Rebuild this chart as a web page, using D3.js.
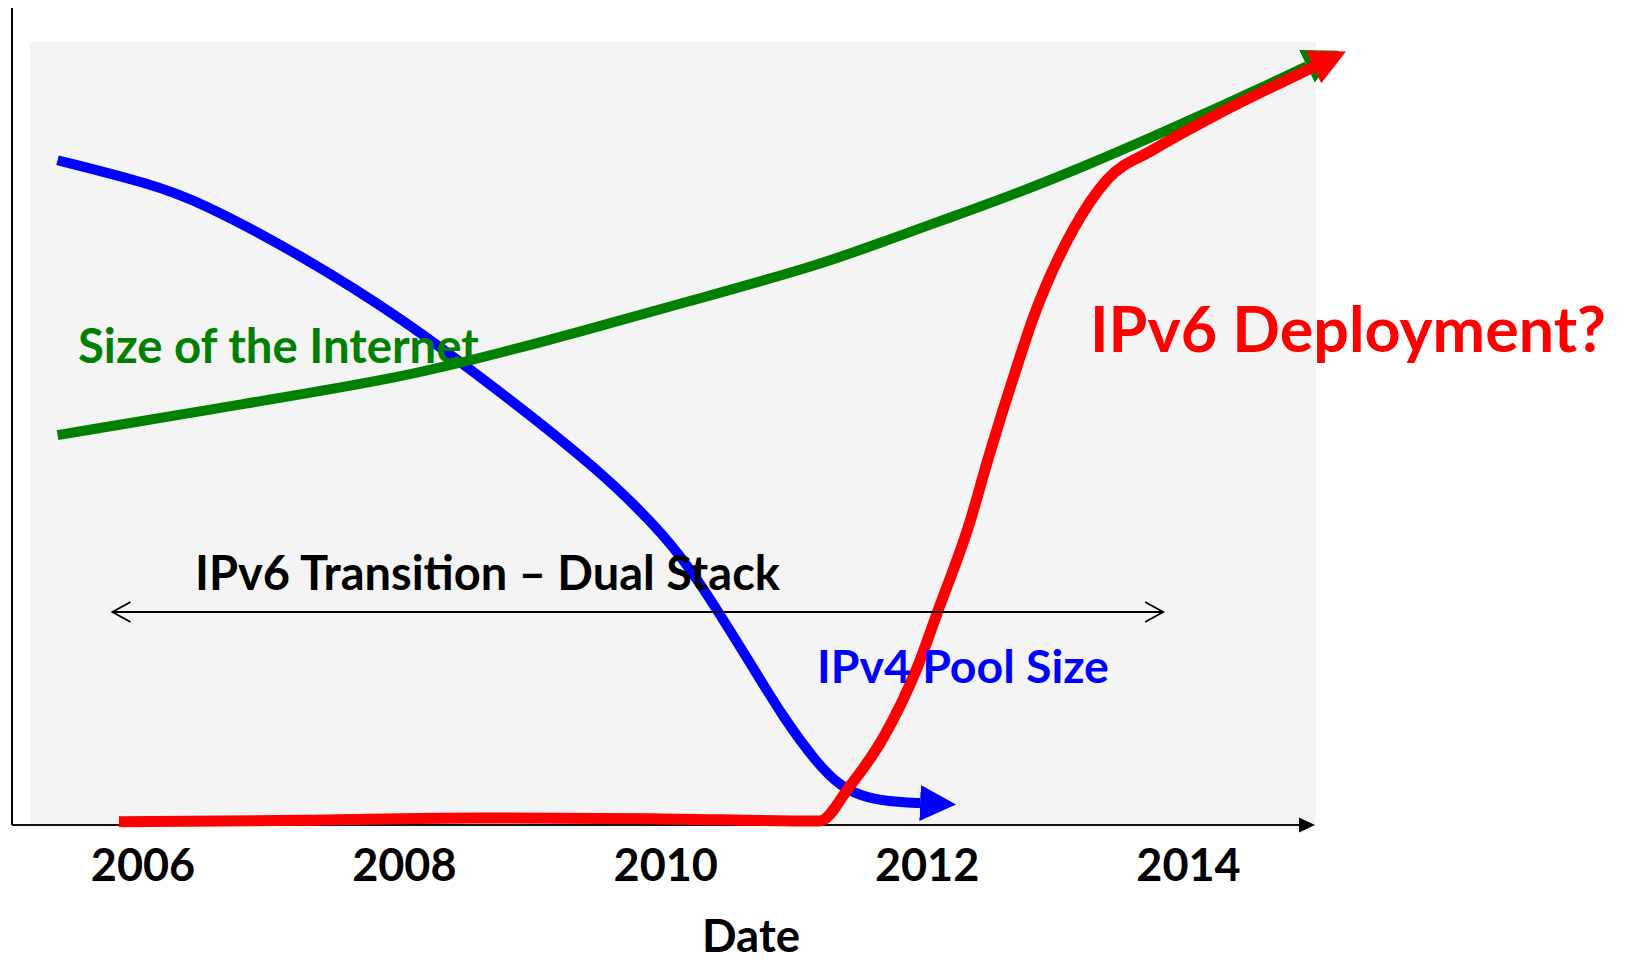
<!DOCTYPE html>
<html>
<head>
<meta charset="utf-8">
<script src="https://cdn.jsdelivr.net/npm/d3@7"></script>
<style>
  body { margin: 0; background: #fff; }
  text { font-family: Lato, "Open Sans", sans-serif; font-weight: 700; }
</style>
</head>
<body>
<div id="chart"></div>
<script>
const width = 1625,
   height = 962;

// data (year, relative size 0-100)
const tickYears = [2006, 2008, 2010, 2012, 2014];

const internetYears = [2005.35, 2006.82, 2007.97, 2008.74, 2009.35, 2010.14, 2011.18, 2011.7, 2012.2, 2012.71, 2013.23, 2013.73, 2014.24, 2014.76, 2014.91];
const internetSize = [49.8, 53.9, 57.1, 60.3, 63.0, 66.7, 71.5, 74.7, 77.7, 80.8, 84.3, 87.9, 91.7, 95.7, 96.9];

const poolYears = [2005.35, 2006.06, 2006.44, 2007.2, 2007.97, 2008.74, 2009.5, 2010.01, 2010.27, 2010.65, 2010.9, 2011.16, 2011.34, 2011.54, 2011.8, 2011.95];
const poolSize = [84.9, 81.9, 79.6, 72.9, 64.9, 55.3, 45.3, 36.8, 30.9, 20.7, 13.8, 7.9, 4.9, 3.4, 2.9, 2.8];

const v6Years = [2005.82, 2007.2, 2008.57, 2009.88, 2011.18, 2011.41, 2011.67, 2011.93, 2012.09, 2012.32, 2012.48, 2012.69, 2012.81, 2013.12, 2013.38, 2013.73, 2014.24, 2014.76, 2014.96];
const v6Deployment = [0.4, 0.6, 0.9, 0.8, 0.5, 4.9, 11.2, 20.2, 27.5, 38.1, 47.3, 58.5, 64.5, 76.0, 82.4, 86.2, 90.9, 95.2, 96.8];

const transitionSpan = [2005.77, 2013.81];
const transitionLevel = 27.2;

const svg = d3.select('#chart')
   .append('svg')
   .attr('width', width)
   .attr('height', height);

const x = d3.scaleLinear()
   .domain([2006, 2014])
   .range([142.5, 1188]);

const y = d3.scaleLinear()
   .domain([0, 100])
   .range([825, 42]);

const defs = svg.append('defs');

function arrowHead(id, color) {
   defs.append('marker')
      .attr('id', id)
      .attr('viewBox', '0 -18 36 36')
      .attr('refX', 0)
      .attr('refY', 0)
      .attr('markerUnits', 'userSpaceOnUse')
      .attr('markerWidth', 36)
      .attr('markerHeight', 36)
      .attr('orient', 'auto')
      .append('path')
      .attr('d', 'M0,-18L36,0L0,18Z')
      .attr('fill', color);
}
arrowHead('head-green', '#008000');
arrowHead('head-blue', '#0000ff');
arrowHead('head-red', '#ff0000');

defs.append('marker')
   .attr('id', 'axis-head')
   .attr('viewBox', '0 -8 16 16')
   .attr('refX', 0)
   .attr('refY', 0)
   .attr('markerUnits', 'userSpaceOnUse')
   .attr('markerWidth', 16)
   .attr('markerHeight', 16)
   .attr('orient', 'auto')
   .append('path')
   .attr('d', 'M0,-7.5L16,0L0,7.5Z')
   .attr('fill', '#000');

defs.append('marker')
   .attr('id', 'open-head')
   .attr('viewBox', '-20 -12 22 24')
   .attr('refX', 0)
   .attr('refY', 0)
   .attr('markerUnits', 'userSpaceOnUse')
   .attr('markerWidth', 22)
   .attr('markerHeight', 24)
   .attr('orient', 'auto-start-reverse')
   .append('path')
   .attr('d', 'M-18,-10L0,0L-18,10')
   .attr('fill', 'none')
   .attr('stroke', '#000')
   .attr('stroke-width', 1.8);

// plot background
svg.append('rect')
   .attr('x', 30)
   .attr('y', y(100))
   .attr('width', 1316 - 30)
   .attr('height', y(0) - y(100))
   .attr('fill', '#f4f4f4');

// axes
svg.append('line')
   .attr('x1', 12).attr('x2', 12)
   .attr('y1', 8).attr('y2', y(0))
   .attr('stroke', '#000')
   .attr('stroke-width', 2);

svg.append('line')
   .attr('x1', 12).attr('x2', 1299)
   .attr('y1', y(0)).attr('y2', y(0))
   .attr('stroke', '#111')
   .attr('stroke-width', 2)
   .attr('marker-end', 'url(#axis-head)');

const xAxis = svg.append('g')
   .attr('transform', `translate(0, ${y(0)})`)
   .call(d3.axisBottom(x).tickValues(tickYears).tickFormat(d3.format('d')).tickSize(0));

xAxis.select('.domain').remove();
xAxis.selectAll('text')
   .attr('y', 56)
   .attr('dy', 0)
   .attr('fill', '#000')
   .attr('font-size', 45)
   .style('font-family', 'Lato, "Open Sans", sans-serif')
   .style('font-weight', 700);

// curves
const smooth = d3.line()
   .x(d => x(d[0]))
   .y(d => y(d[1]))
   .curve(d3.curveBasis);

const rising = d3.line()
   .x(d => x(d[0]))
   .y(d => y(d[1]))
   .curve(d3.curveMonotoneX);

const internet = d3.zip(internetYears, internetSize),
   pool = d3.zip(poolYears, poolSize),
   v6 = d3.zip(v6Years, v6Deployment);

svg.append('path')
   .attr('d', smooth(pool))
   .attr('fill', 'none')
   .attr('stroke', '#0000ff')
   .attr('stroke-width', 10)
   .attr('marker-end', 'url(#head-blue)');

svg.append('path')
   .attr('d', smooth(internet))
   .attr('fill', 'none')
   .attr('stroke', '#008000')
   .attr('stroke-width', 10)
   .attr('marker-end', 'url(#head-green)');

svg.append('path')
   .attr('d', rising(v6))
   .attr('fill', 'none')
   .attr('stroke', '#ff0000')
   .attr('stroke-width', 11)
   .attr('stroke-linejoin', 'round')
   .attr('marker-end', 'url(#head-red)');

// dual stack span
svg.append('line')
   .attr('x1', x(transitionSpan[0]))
   .attr('x2', x(transitionSpan[1]))
   .attr('y1', y(transitionLevel))
   .attr('y2', y(transitionLevel))
   .attr('stroke', '#000')
   .attr('stroke-width', 2)
   .attr('marker-start', 'url(#open-head)')
   .attr('marker-end', 'url(#open-head)');

// labels, sized to the widths they have in the picture
function fitText(sel, target) {
   const w = sel.node().getComputedTextLength();
   sel.attr('font-size', parseFloat(sel.attr('font-size')) * target / w);
   return sel;
}

const labels = [
   {text: 'Size of the Internet', x: 78, y: 363, w: 401, color: '#008000', anchor: 'start'},
   {text: 'IPv6 Transition \u2013 Dual Stack', x: 195, y: 590, w: 585, color: '#000', anchor: 'start'},
   {text: 'IPv4 Pool Size', x: 817, y: 683, w: 292, color: '#0000ff', anchor: 'start'},
   {text: 'IPv6 Deployment?', x: 1090, y: 352, w: 516, color: '#ff0000', anchor: 'start'},
   {text: 'Date', x: 751, y: 952, w: 98, color: '#000', anchor: 'middle'}
];

labels.forEach(l => {
   const t = svg.append('text')
      .attr('x', l.x)
      .attr('y', l.y)
      .attr('fill', l.color)
      .attr('text-anchor', l.anchor)
      .attr('font-size', 46)
      .text(l.text);
   fitText(t, l.w);
});
</script>
</body>
</html>
